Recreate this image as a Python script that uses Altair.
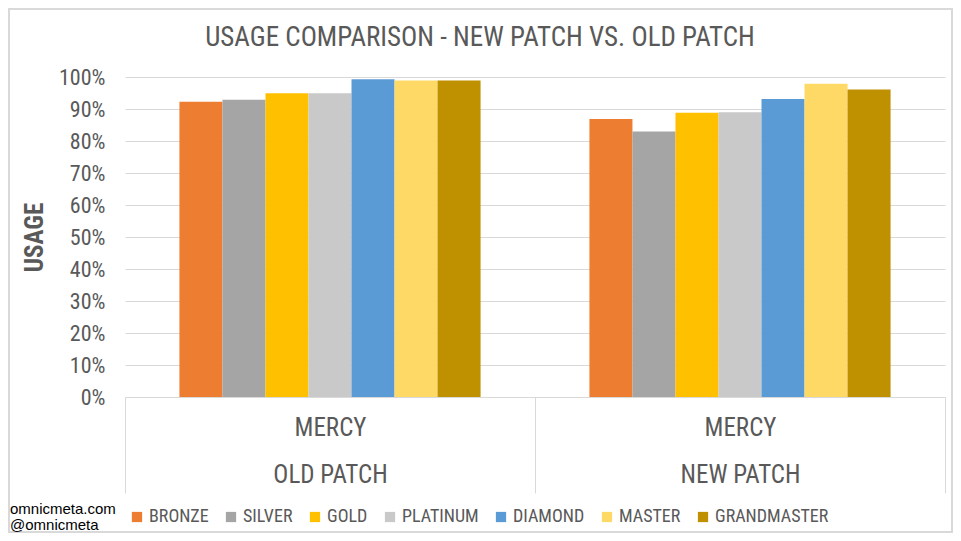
import altair as alt
import pandas as pd

tiers = ["Bronze", "Silver", "Gold", "Platinum", "Diamond", "Master", "Grandmaster"]
colors = ["#ED7D31", "#A5A5A5", "#FFC000", "#C9C9C9", "#5B9BD5", "#FFD966", "#BF9000"]
patches = ["Old Patch", "New Patch"]
old_usage = [0.923, 0.929, 0.949, 0.949, 0.993, 0.989, 0.989]
new_usage = [0.869, 0.830, 0.888, 0.890, 0.931, 0.979, 0.961]
hero = "Mercy"
y_ticks = [0, 0.1, 0.2, 0.3, 0.4, 0.5, 0.6, 0.7, 0.8, 0.9, 1.0]
footer_lines = ["omnicmeta.com", "@omnicmeta"]
title_text = "USAGE COMPARISON - NEW PATCH VS. OLD PATCH"

rows = []
for p, vals in zip(patches, [old_usage, new_usage]):
    for t, v in zip(tiers, vals):
        rows.append({"patch": p, "tier": t, "usage": v})
df = pd.DataFrame(rows)

# empty slots at both ends of each group (gap around the bar cluster)
offset_domain = ["_gap_start"] + tiers + ["_gap_end"]

FONT = "Roboto Condensed, Roboto, sans-serif"
GRAY = "#595959"
LINE = "#D9D9D9"

bars = alt.Chart(df).mark_bar().encode(
    x=alt.X(
        "patch:N",
        sort=patches,
        scale=alt.Scale(paddingInner=0, paddingOuter=0),
        axis=alt.Axis(
            title=None,
            labelExpr=f"isValid(datum.label) && datum.label != '' ? ['{hero.upper()}', upper(datum.label)] : ''",
            labelAngle=0,
            tickBand="extent",
            tickSize=96,
            tickColor=LINE,
            domainColor=LINE,
            labelPadding=-96 + 18,
            labelBaseline="top",
            labelLineHeight=47,
            labelFont=FONT,
            labelFontSize=25,
            labelColor=GRAY,
        ),
    ),
    xOffset=alt.XOffset(
        "tier:N",
        scale=alt.Scale(domain=offset_domain, paddingInner=0, paddingOuter=0.265),
    ),
    y=alt.Y(
        "usage:Q",
        scale=alt.Scale(domain=[0, 1]),
        axis=alt.Axis(
            title="USAGE",
            format=".0%",
            values=y_ticks,
            domain=False,
            ticks=False,
            gridColor=LINE,
            labelPadding=20,
            labelFont=FONT,
            labelFontSize=22,
            labelColor=GRAY,
            titleFont=FONT,
            titleFontSize=25,
            titleFontWeight="bold",
            titleColor=GRAY,
            titlePadding=11,
        ),
    ),
    color=alt.Color(
        "tier:N",
        sort=tiers,
        scale=alt.Scale(domain=tiers, range=colors),
        legend=alt.Legend(
            title=None,
            orient="none",
            legendX=3,
            legendY=431,
            direction="horizontal",
            columns=7,
            symbolType="square",
            symbolSize=105,
            symbolStrokeWidth=0,
            labelExpr="upper(datum.label)",
            labelFont=FONT,
            labelFontSize=18,
            labelColor=GRAY,
            labelOffset=3,
            columnPadding=13,
        ),
    ),
)

title = alt.Chart(pd.DataFrame({"t": [title_text]})).mark_text(
    align="center", baseline="alphabetic", font=FONT, fontSize=27, color=GRAY,
).encode(text="t:N", x=alt.value(355), y=alt.value(-31))

footer = alt.Chart(pd.DataFrame({"t": ["\n".join(footer_lines)]})).mark_text(
    align="left", baseline="alphabetic", lineBreak="\n", lineHeight=16,
    font="Liberation Sans, Arial, sans-serif", fontSize=15, color="#000000",
).encode(text="t:N", x=alt.value(-115), y=alt.value(437))

border = alt.Chart(pd.DataFrame({"a": [0]})).mark_rect(
    fillOpacity=0, stroke=LINE, strokeWidth=2,
).encode(x=alt.value(-116), x2=alt.value(827), y=alt.value(-68), y2=alt.value(455))

chart = alt.layer(border, bars, title, footer).properties(
    width=820,
    height=320,
    padding={"left": 117, "top": 69, "right": 8, "bottom": 136},
    autosize=alt.AutoSizeParams(type="none"),
).configure_view(stroke=None)

chart.save("out.html", embed_options={"renderer": "svg", "actions": False})
